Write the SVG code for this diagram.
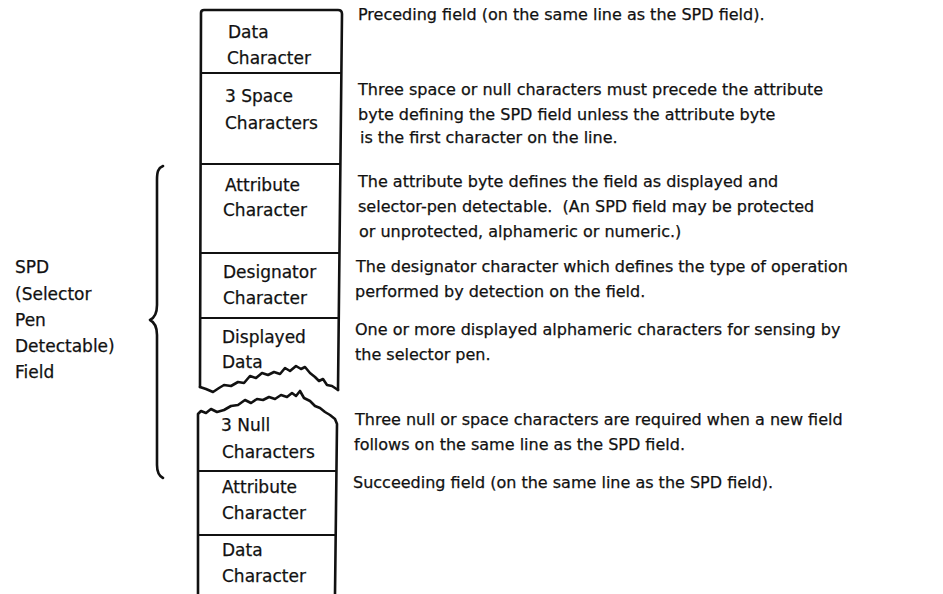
<svg xmlns="http://www.w3.org/2000/svg" width="943" height="594" viewBox="0 0 943 594">
<style>
text{font-family:"DejaVu Sans","Liberation Sans",sans-serif;font-size:16px;fill:#111;stroke:#111;stroke-width:0.25}
.box text,.lbl text{font-size:17px}
.edge{fill:none;stroke:#111;stroke-width:2.6;stroke-linejoin:round;stroke-linecap:round}
.div{fill:none;stroke:#111;stroke-width:2.2}
</style>
<rect width="943" height="594" fill="#fff"/>
<g id="column">
<path class="edge" d="M200,387 L201,13 Q201,10 204,10 L338,10 Q342,10 342,14 L338,390"/>
<path class="edge" d="M200,387 L206,389 L213,392 L219,388 L224,385 L231,386 L238,382 L244,383 L250,376 L256,378 L262,373 L268,375 L274,372 L280,374 L285,368 L290,371 L296,366 L301,369 L305,367 L310,373 L315,377 L319,381 L323,379 L327,385 L332,386 L338,390"/>
<path class="edge" d="M198,594 L198,414 L201,411 L206,413 L211,409 L217,412 L224,410 L231,406 L238,405 L245,400 L251,403 L257,399 L263,400 L269,397 L275,399 L281,395 L287,397 L292,393 L296,396 L300,391 L304,398 L310,401 L315,406 L320,408 L325,412 L330,415 L335,419 L337,424 L335,594"/>
</g>
<g class="box">
<g id="data-character-1"><text x="228" y="38">Data</text><text x="227" y="64">Character</text><line class="div" x1="201" y1="73" x2="342" y2="73"/></g>
<g id="space-characters"><text x="225" y="102">3 Space</text><text x="225" y="129">Characters</text><line class="div" x1="201" y1="164" x2="341" y2="164"/></g>
<g id="attribute-character-1"><text x="225" y="191">Attribute</text><text x="223" y="216">Character</text><line class="div" x1="200" y1="253" x2="340" y2="253"/></g>
<g id="designator-character"><text x="223" y="278">Designator</text><text x="223" y="304">Character</text><line class="div" x1="200" y1="318" x2="339" y2="318"/></g>
<g id="displayed-data"><text x="222" y="343">Displayed</text><text x="222" y="368">Data</text></g>
<g id="null-characters"><text x="221" y="431">3 Null</text><text x="222" y="458">Characters</text><line class="div" x1="198" y1="471" x2="336" y2="471"/></g>
<g id="attribute-character-2"><text x="222" y="493">Attribute</text><text x="222" y="519">Character</text><line class="div" x1="198" y1="535" x2="335" y2="535"/></g>
<g id="data-character-2"><text x="222" y="556">Data</text><text x="222" y="582">Character</text></g>
</g>
<g id="spd-label" class="lbl">
<text x="15" y="273">SPD</text><text x="15" y="300">(Selector</text><text x="15" y="326">Pen</text><text x="15" y="352">Detectable)</text><text x="15" y="378">Field</text>
</g>
<g id="connectors">
<path class="edge" d="M163,166 C158,168 157,172 157,180 L157,305 C157,314 154,318 150,320 C154,322 157,326 157,335 L157,465 C157,472 159,476 163,478"/>
</g>
<g id="descriptions">
<text x="358" y="20">Preceding field (on the same line as the SPD field).</text>
<text x="358" y="95">Three space or null characters must precede the attribute</text>
<text x="358" y="120">byte defining the SPD field unless the attribute byte</text>
<text x="360" y="143">is the first character on the line.</text>
<text x="358" y="187">The attribute byte defines the field as displayed and</text>
<text x="358" y="212">selector-pen detectable.&#160; (An SPD field may be protected</text>
<text x="359" y="237">or unprotected, alphameric or numeric.)</text>
<text x="356" y="272">The designator character which defines the type of operation</text>
<text x="355" y="297">performed by detection on the field.</text>
<text x="355" y="335">One or more displayed alphameric characters for sensing by</text>
<text x="355" y="360">the selector pen.</text>
<text x="355" y="425">Three null or space characters are required when a new field</text>
<text x="354" y="450">follows on the same line as the SPD field.</text>
<text x="353" y="488">Succeeding field (on the same line as the SPD field).</text>
</g>
</svg>
